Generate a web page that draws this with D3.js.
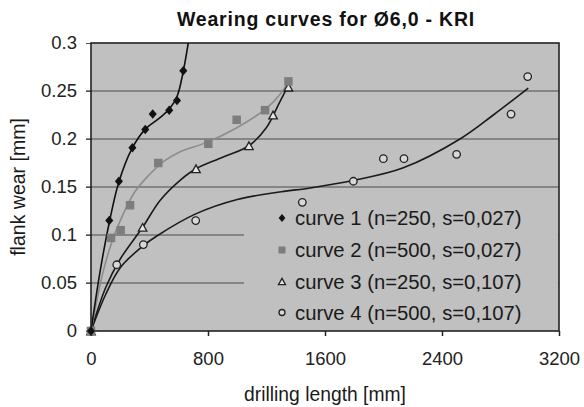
<!DOCTYPE html>
<html><head><meta charset="utf-8">
<script src="https://cdn.jsdelivr.net/npm/d3@7"></script>
<style>
html,body{margin:0;padding:0;background:#fff;}
svg{display:block;font-family:"Liberation Sans",Arial,sans-serif;}
</style></head>
<body><svg id="c" width="584" height="407"></svg>
<script>
// ---- data ----
const xTicks = [0, 800, 1600, 2400, 3200];
const yTicks = [0, 0.05, 0.1, 0.15, 0.2, 0.25, 0.3];
const seriesNames = ["curve 1 (n=250, s=0,027)", "curve 2 (n=500, s=0,027)", "curve 3 (n=250, s=0,107)", "curve 4 (n=500, s=0,107)"];

const curve1X = [0, 125, 191, 283, 371, 422, 535, 588, 631];
const curve1Y = [0, 0.115, 0.156, 0.191, 0.210, 0.226, 0.230, 0.240, 0.271];
const curve2X = [0, 137, 203, 267, 460, 802, 996, 1190, 1350];
const curve2Y = [0, 0.097, 0.105, 0.131, 0.175, 0.195, 0.220, 0.230, 0.260];
const curve3X = [0, 353, 718, 1080, 1245, 1350];
const curve3Y = [0, 0.108, 0.169, 0.193, 0.225, 0.254];
const curve4X = [0, 176, 358, 716, 1445, 1794, 1999, 2140, 2500, 2872, 2986];
const curve4Y = [0, 0.069, 0.090, 0.115, 0.134, 0.156, 0.1795, 0.1795, 0.184, 0.226, 0.265];

// trend lines
const trend1X = [0, 60, 125, 190, 280, 370, 470, 540, 590, 630, 665];
const trend1Y = [0, 0.06, 0.113, 0.155, 0.19, 0.21, 0.222, 0.232, 0.245, 0.27, 0.3];
const trend2X = [0, 80, 137, 200, 300, 400, 500, 600, 800, 1000, 1200, 1300, 1350];
const trend2Y = [0, 0.06, 0.09, 0.115, 0.145, 0.163, 0.177, 0.186, 0.197, 0.212, 0.232, 0.248, 0.26];
const trend3X = [0, 100, 200, 353, 472, 609, 718, 900, 1080, 1200, 1292, 1350];
const trend3Y = [0, 0.045, 0.075, 0.108, 0.136, 0.157, 0.169, 0.181, 0.193, 0.212, 0.239, 0.256];
const trend4X = [0, 100, 200, 350, 450, 716, 1000, 1300, 1500, 1800, 2136, 2523, 2751, 2990];
const trend4Y = [0, 0.038, 0.066, 0.088, 0.099, 0.122, 0.137, 0.145, 0.149, 0.157, 0.170, 0.2, 0.225, 0.253];

// ---- layout ----
const L = 91, R = 559, T = 43, B = 331;
const svg = d3.select("#c");
const x = d3.scaleLinear().domain([0, 3200]).range([L, R]);
const y = d3.scaleLinear().domain([0, 0.3]).range([B, T]);

const zip = (xs, ys) => xs.map((v, i) => [v, ys[i]]);

// title
svg.append("text").attr("x", 326).attr("y", 26).attr("text-anchor", "middle")
  .attr("font-size", 19.5).attr("font-weight", "bold").attr("letter-spacing", "0.8px")
  .attr("fill", "#111").text("Wearing curves for Ø6,0 - KRI");

// plot background
svg.append("rect").attr("x", L).attr("y", T).attr("width", R - L).attr("height", B - T).attr("fill", "#c0c0c0");

// grid lines
svg.append("g").selectAll("line").data(yTicks.filter(v => v > 0 && v < 0.3)).join("line")
  .attr("x1", L - 5).attr("x2", R).attr("y1", d => y(d)).attr("y2", d => y(d))
  .attr("stroke", "#858585").attr("stroke-width", 2);

// axes
const yAxis = d3.axisLeft(y).tickValues(yTicks).tickSize(5).tickPadding(9)
  .tickFormat(d => d === 0 ? "0" : String(+d.toFixed(2)));
const gy = svg.append("g").attr("transform", `translate(${L},0)`).call(yAxis);
gy.select(".domain").remove();
gy.selectAll("line").attr("stroke", "#555");
gy.selectAll("text").attr("font-size", 18.5).attr("fill", "#222").attr("font-family", '"Liberation Sans",Arial,sans-serif');

const xAxis = d3.axisBottom(x).tickValues(xTicks).tickSize(5).tickPadding(16).tickFormat(d3.format("d"));
const gx = svg.append("g").attr("transform", `translate(0,${B})`).call(xAxis);
gx.select(".domain").remove();
gx.selectAll("line").attr("stroke", "#222").attr("stroke-width", 1.5);
gx.selectAll("text").attr("font-size", 18.5).attr("fill", "#222").attr("font-family", '"Liberation Sans",Arial,sans-serif');

// plot border
svg.append("rect").attr("x", L).attr("y", T).attr("width", R - L).attr("height", B - T)
  .attr("fill", "none").attr("stroke", "#222").attr("stroke-width", 1.6);

// legend box
svg.append("rect").attr("x", 244).attr("y", 208).attr("width", R - 1 - 244).attr("height", B - 1 - 208).attr("fill", "#c0c0c0");

// clip
svg.append("clipPath").attr("id", "clip").append("rect").attr("x", L).attr("y", T).attr("width", R - L).attr("height", B - T);
const plot = svg.append("g").attr("clip-path", "url(#clip)");

const line = d3.line().x(d => x(d[0])).y(d => y(d[1])).curve(d3.curveCatmullRom.alpha(0.5));
const trends = [
  {d: zip(trend4X, trend4Y), c: "#1a1a1a"},
  {d: zip(trend3X, trend3Y), c: "#1a1a1a"},
  {d: zip(trend2X, trend2Y), c: "#8c8c8c"},
  {d: zip(trend1X, trend1Y), c: "#111"}
];
plot.selectAll("path.trend").data(trends).join("path").attr("class", "trend")
  .attr("d", t => line(t.d)).attr("fill", "none").attr("stroke", t => t.c).attr("stroke-width", 1.6);

// markers
function marker(g, kind, px, py, s) {
  if (kind === 1) {
    const h = s / 2;
    g.append("path").attr("d", `M${px},${py - h}L${px + h * 0.85},${py}L${px},${py + h}L${px - h * 0.85},${py}Z`)
      .attr("fill", "#111");
  } else if (kind === 2) {
    g.append("rect").attr("x", px - s / 2).attr("y", py - s / 2).attr("width", s).attr("height", s).attr("fill", "#7d7d7d");
  } else if (kind === 3) {
    const h = s * 0.9;
    g.append("path").attr("d", `M${px},${py - h / 2}L${px + s / 2},${py + h / 2}L${px - s / 2},${py + h / 2}Z`)
      .attr("fill", "#e6e6e6").attr("stroke", "#222").attr("stroke-width", 1.3);
  } else {
    g.append("circle").attr("cx", px).attr("cy", py).attr("r", s / 2 - 0.5)
      .attr("fill", "#d8d8d8").attr("stroke", "#222").attr("stroke-width", 1.3);
  }
}
const series = [
  {k: 4, d: zip(curve4X, curve4Y), s: 8.5},
  {k: 3, d: zip(curve3X, curve3Y), s: 8.5},
  {k: 2, d: zip(curve2X, curve2Y), s: 8.5},
  {k: 1, d: zip(curve1X, curve1Y), s: 9.5}
];
const mg = svg.append("g");
series.forEach(sr => sr.d.forEach(p => marker(mg, sr.k, x(p[0]), y(p[1]), sr.s)));

// legend
const legY = [218, 250, 281.5, 312.5];
const lg = svg.append("g");
seriesNames.forEach((n, i) => {
  marker(lg, i + 1, 282, legY[i], i === 0 ? 8 : 7);
  lg.append("text").attr("x", 295).attr("y", legY[i]).attr("dy", "0.36em")
    .attr("font-size", 20.3).attr("fill", "#1a1a1a").text(n);
});

// axis titles
svg.append("text").attr("x", 325).attr("y", 401).attr("text-anchor", "middle")
  .attr("font-size", 19.3).attr("fill", "#1a1a1a").text("drilling length [mm]");
svg.append("text").attr("transform", "translate(25,187) rotate(-90)").attr("text-anchor", "middle")
  .attr("font-size", 19.5).attr("fill", "#1a1a1a").text("flank wear [mm]");
</script></body></html>
